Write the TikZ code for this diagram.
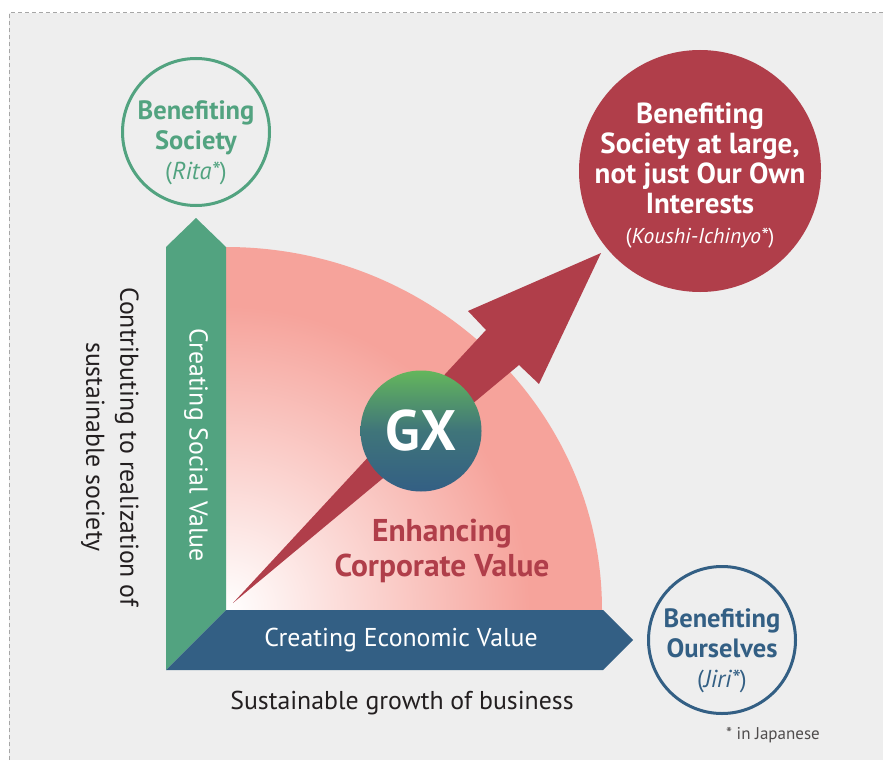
\documentclass[tikz,border=0pt]{standalone}
\usepackage{fontspec}
\setmainfont{PT Sans}
\usetikzlibrary{positioning,shapes,calc}
\definecolor{gxgreen}{HTML}{52A380}
\definecolor{gxblue}{HTML}{335F84}
\definecolor{gxred}{HTML}{B03E4A}
\definecolor{gxsalmon}{HTML}{F6A39B}
\definecolor{gxgray}{HTML}{EEEEEE}
\definecolor{gxtext}{HTML}{231F20}
\definecolor{gxlime}{HTML}{64B65C}
\pgfdeclareradialshading{pinkfade}{\pgfpoint{0bp}{0bp}}{color(0bp)=(white); color(19bp)=(gxsalmon); color(25bp)=(gxsalmon); color(50bp)=(gxsalmon)}

\begin{document}
\begin{tikzpicture}[x=1pt,y=-1pt,
	ring/.style={circle,draw=#1,line width=3pt,minimum size=147pt,inner sep=0pt},
	ringtext/.style={text=#1,align=center,inner sep=0pt,font=\fontsize{26.5}{30}\selectfont\bfseries},
	bartext/.style={text=white,inner sep=0pt,font=\fontsize{25.8}{28}\selectfont},
	plaintext/.style={text=gxtext,align=center,inner sep=0pt,font=\fontsize{25.8}{34}\selectfont}]
	\useasboundingbox (0,0) rectangle (883,760);
	\fill[gxgray] (9,13) rectangle (883,760);
	\draw[gray!70,line width=1pt,dash pattern=on 4pt off 3pt] (9,760) -- (9,13) -- (883,13);
	
	%% quarter disc
	\begin{scope}
		\clip (226,610) -- (226,247) arc[start angle=-90,end angle=0,x radius=376,y radius=363] -- cycle;
		\shade[shading=pinkfade] (226,610) circle (400);
	\end{scope}
	
	%% the two bars
	\fill[gxgreen] (166,670) -- (166,247) -- (196,218) -- (226,247) -- (226,610) -- cycle;
	\fill[gxblue] (166,670) -- (226,610) -- (603,610) -- (633,640) -- (603,670) -- cycle;
	\node[bartext,rotate=-90] (social) at (196,445) {Creating Social Value};
	\node[bartext] (economic) at (401,640) {Creating Economic Value};
	
	%% growth arrow
	\fill[gxred] (233,603) -- (486,330) -- (468,311) -- (601,253) -- (539,384) -- (519,365) -- cycle;
	
	\node[circle,minimum size=121pt,inner sep=0pt,top color=gxlime,bottom color=gxblue,middle color=gxblue!75!gxlime,
		text=white,font=\fontsize{57}{57}\selectfont\bfseries] (gx) at (421,431) {GX};
	\node[text=gxred,align=center,inner sep=0pt,font=\fontsize{31.5}{35}\selectfont\bfseries] (value) at (442,551) {Enhancing\\Corporate Value};
	
	%% circles
	\node[ring=gxgreen] (ritaring) at (196,132) {};
	\node[ringtext=gxgreen] (rita) at (196,143) {Benefiting\\Society\\{\mdseries\fontsize{24.5}{28}\selectfont(\textit{Rita*})}};
	\node[ring=gxblue] (jiriring) at (722,640) {};
	\node[ringtext=gxblue] (jiri) at (722,651) {Benefiting\\Ourselves\\{\mdseries\fontsize{24.5}{28}\selectfont(\textit{Jiri*})}};
	\node[circle,fill=gxred,minimum size=242pt,inner sep=0pt] (koushiring) at (700,171) {};
	\node[ringtext=white,font=\fontsize{29}{30}\selectfont\bfseries] (koushi) at (700,176) {Benefiting\\Society at large,\\not just Our Own\\Interests\\{\mdseries\fontsize{21.5}{28}\selectfont(\textit{Koushi-Ichinyo*})}};
	
	%% axis captions
	\node[plaintext,rotate=-90] (society) at (110,447) {Contributing to realization of\\sustainable society};
	\node[plaintext] (growth) at (402,703) {Sustainable growth of business};
	\node[text=gxtext!80,inner sep=0pt,font=\fontsize{17}{17}\selectfont] (note) at (773,735) {* in Japanese};
\end{tikzpicture}
\end{document}
